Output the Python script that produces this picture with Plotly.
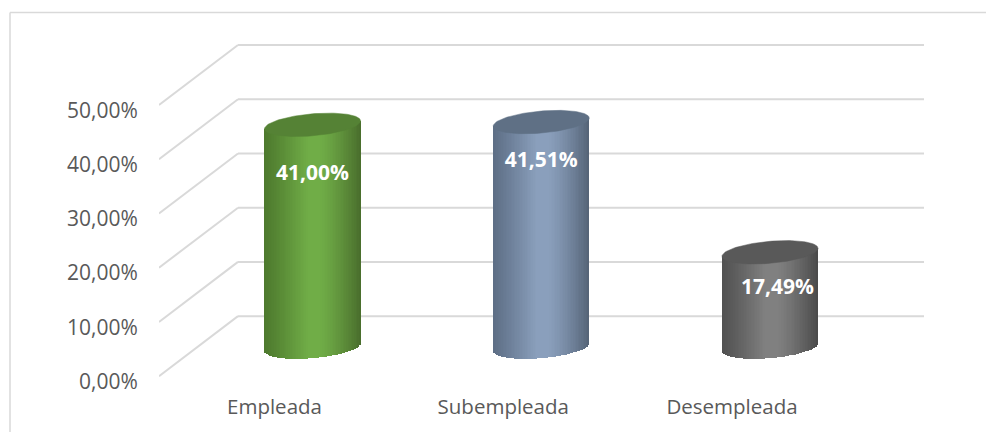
import numpy as np
import plotly.graph_objects as go

# ---- data ----
categories = ["Empleada", "Subempleada", "Desempleada"]
values = [41.00, 41.51, 17.49]
value_labels = ["41,00%", "41,51%", "17,49%"]
y_ticks = [0, 10, 20, 30, 40, 50]
y_tick_labels = ["0,00%", "10,00%", "20,00%", "30,00%", "40,00%", "50,00%"]

# ---- styles (cap, edge-left, centre, edge-right) ----
palettes = [
    ("#558235", "#4E7A2E", "#70AD47", "#4A6E2D"),
    ("#5F7085", "#5E6F86", "#8A9FBC", "#556477"),
    ("#595959", "#515151", "#808080", "#4A4A4A"),
]
W, H = 986, 432
PX_Y = 5.42             # pixels per percentage point
Y_FLOOR = -2            # axis starts a little under zero to leave room for the labels
L, R, T, B = 159, 924, 40, 376 - Y_FLOOR * PX_Y
PX_X = 228.75           # pixels per category
X0 = 312.5              # pixel of the first cylinder centre
DEPTH_X = 79 / PX_X     # oblique depth of the floor
DEPTH_Y = 60 / PX_Y
BASE_Y = 29 / PX_Y      # cylinder foot centre above the front edge
RAD_X = 48 / PX_X
RAD_Y = 11 / PX_Y
TILT = 4 / PX_Y
# label shift from cylinder top centre (category units, percentage points)
label_dx = [0.0, 0.0, 0.033]
label_dy = [-9.2, -7.4, -6.8]
GRID = "#D9D9D9"
xmin, xmax = (L - X0) / PX_X, (R - X0) / PX_X


def hex_rgb(c):
    return np.array([int(c[i:i + 2], 16) for i in (1, 3, 5)], float)


def gradient(u, left, mid, right):
    a, b, c = hex_rgb(left), hex_rgb(mid), hex_rgb(right)
    out = []
    for v in u:
        if v < -0.1:
            rgb = a + (b - a) * ((v + 1) / 0.9) ** 1.1
        elif v < 0.15:
            rgb = b
        else:
            rgb = b + (c - b) * ((v - 0.15) / 0.85) ** 1.3
        out.append("rgb(%d,%d,%d)" % tuple(rgb))
    return out


fig = go.Figure()
N = 60
edges = np.linspace(-1, 1, N + 1)
u = (edges[:-1] + edges[1:]) / 2
for i, v in enumerate(values):
    cap, el, mid, er = palettes[i]
    top = BASE_Y + v + TILT * u
    foot = BASE_Y + TILT * u - RAD_Y * np.sqrt(np.clip(1 - u ** 2, 0, 1))
    fig.add_trace(go.Bar(
        x=i + u * RAD_X, y=top - foot, base=foot, width=2 * RAD_X / N * 1.25,
        marker=dict(color=gradient(u, el, mid, er), line=dict(width=0)),
        hoverinfo="skip", showlegend=False,
    ))
    t = np.linspace(0, 2 * np.pi, 121)
    fig.add_trace(go.Scatter(
        x=i + RAD_X * np.cos(t),
        y=BASE_Y + v + RAD_Y * np.sin(t) + TILT * np.cos(t),
        mode="lines", fill="toself", fillcolor=cap, line=dict(color=cap, width=0.5),
        hoverinfo="skip", showlegend=False,
    ))

fig.add_trace(go.Scatter(
    x=[i + d for i, d in enumerate(label_dx)],
    y=[BASE_Y + v + d for v, d in zip(values, label_dy)],
    text=value_labels, mode="text", textposition="middle center",
    textfont=dict(family="Open Sans", size=21, color="white", weight="bold"),
    hoverinfo="skip", showlegend=False,
))

shapes = []
for v in y_ticks:
    shapes.append(dict(type="line", xref="x", yref="y", layer="below",
                       x0=xmin, y0=v, x1=xmin + DEPTH_X, y1=v + DEPTH_Y,
                       line=dict(color=GRID, width=2)))
    shapes.append(dict(type="line", xref="x", yref="y", layer="below",
                       x0=xmin + DEPTH_X, y0=v + DEPTH_Y, x1=xmax, y1=v + DEPTH_Y,
                       line=dict(color=GRID, width=2)))
# chart-area border (top and left edges visible)
px = lambda p: (p - L) / (R - L)
py = lambda p: (B - p) / (B - T)
shapes.append(dict(type="line", xref="paper", yref="paper", layer="below",
                   x0=px(10), y0=py(12.5), x1=px(W), y1=py(12.5),
                   line=dict(color=GRID, width=1.5)))
shapes.append(dict(type="line", xref="paper", yref="paper", layer="below",
                   x0=px(10), y0=py(12.5), x1=px(10), y1=py(H),
                   line=dict(color=GRID, width=1.5)))

fig.update_layout(
    width=W, height=H, margin=dict(l=L, r=W - R, t=T, b=H - B, autoexpand=False),
    paper_bgcolor="white", plot_bgcolor="rgba(0,0,0,0)", barmode="overlay",
    bargap=0, shapes=shapes, showlegend=False,
    font=dict(family="Open Sans", size=20.5, color="#595959"),
    xaxis=dict(range=[xmin, xmax], tickmode="array",
               tickvals=[i - 38 / PX_X for i in range(len(categories))],
               ticktext=categories, showgrid=False, zeroline=False, showline=False,
               ticks="outside", ticklen=1, tickcolor="rgba(0,0,0,0)"),
    yaxis=dict(range=[Y_FLOOR, (B + Y_FLOOR * PX_Y - T) / PX_Y], tickmode="array",
               tickvals=[v - 1.0 for v in y_ticks],
               ticktext=y_tick_labels, showgrid=False, zeroline=False, showline=False,
               ticks="outside", ticklen=16, tickcolor="rgba(0,0,0,0)",
               tickfont=dict(size=21)),
)
fig.write_html("out.html", config=dict(displayModeBar=False),
               post_script="document.body.style.margin='0';document.documentElement.style.overflow='hidden';")
